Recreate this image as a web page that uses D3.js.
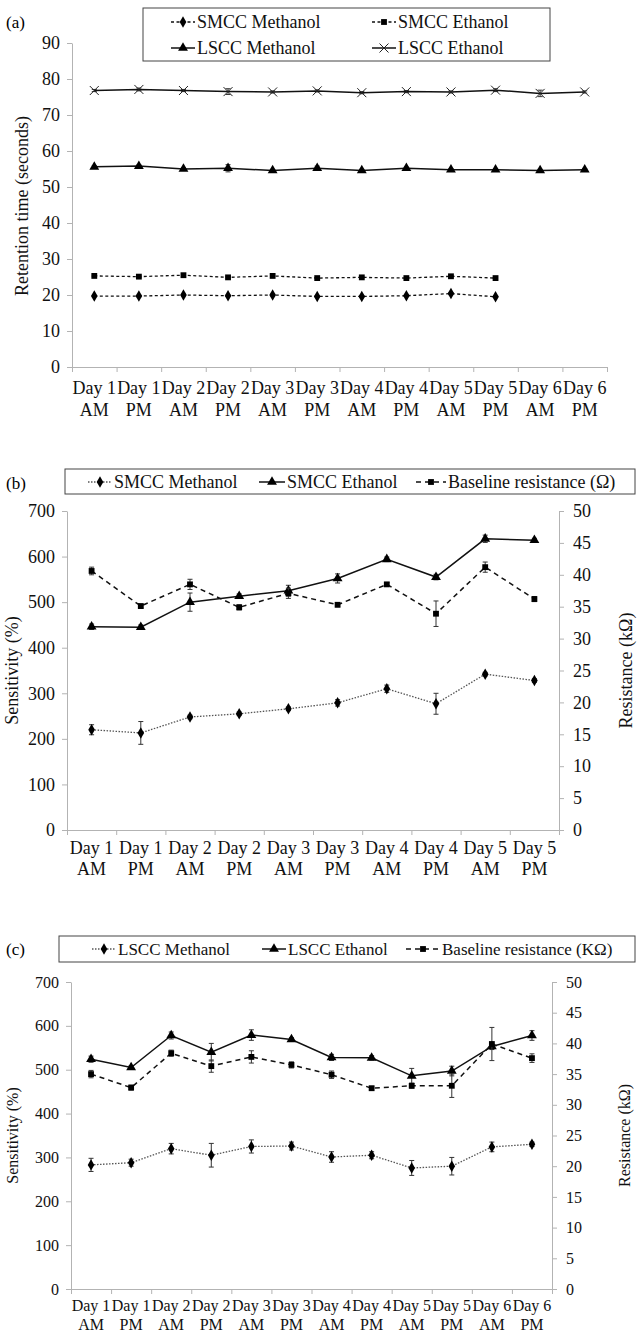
<!DOCTYPE html>
<html>
<head>
<meta charset="utf-8">
<script src="https://cdn.jsdelivr.net/npm/d3@7"></script>
<style>
  body { margin: 0; background: #fff; }
  svg, svg text { font-family: "Liberation Serif", "DejaVu Serif", "Times New Roman", serif !important; }
</style>
</head>
<body>
<div id="chart"></div>
<script>
// ---- data ----
const daysA = ["Day 1 AM", "Day 1 PM", "Day 2 AM", "Day 2 PM", "Day 3 AM", "Day 3 PM",
  "Day 4 AM", "Day 4 PM", "Day 5 AM", "Day 5 PM", "Day 6 AM", "Day 6 PM"];
const daysB = ["Day 1 AM", "Day 1 PM", "Day 2 AM", "Day 2 PM", "Day 3 AM", "Day 3 PM",
  "Day 4 AM", "Day 4 PM", "Day 5 AM", "Day 5 PM"];
const daysC = daysA;

// (a) retention time, seconds
const smccMethanolRT = [19.7, 19.7, 20.0, 19.8, 20.0, 19.6, 19.6, 19.8, 20.4, 19.5];
const smccMethanolRTErr = [0.2, 0.2, 0.2, 0.2, 0.2, 0.2, 0.2, 0.2, 0.3, 0.2];
const smccEthanolRT = [25.3, 25.1, 25.5, 24.9, 25.3, 24.7, 24.9, 24.7, 25.2, 24.7];
const smccEthanolRTErr = [0.2, 0.2, 0.3, 0.2, 0.2, 0.2, 0.2, 0.2, 0.2, 0.2];
const lsccMethanolRT = [55.6, 55.8, 55.0, 55.2, 54.6, 55.2, 54.6, 55.2, 54.8, 54.8, 54.6, 54.8];
const lsccMethanolRTErr = [0.3, 0.3, 0.3, 1.0, 0.3, 0.6, 0.3, 0.3, 0.3, 0.3, 0.3, 0.3];
const lsccEthanolRT = [76.8, 77.1, 76.8, 76.5, 76.4, 76.7, 76.2, 76.5, 76.4, 76.9, 76.0, 76.4];
const lsccEthanolRTErr = [0.3, 0.4, 0.3, 0.8, 0.3, 0.3, 0.3, 0.3, 0.3, 0.4, 0.9, 0.3];

// (b) SMCC sensitivity (%) and baseline resistance (kOhm)
const smccMethanolSens = [220, 213, 248, 255, 266, 279, 310, 277, 342, 328];
const smccMethanolSensErr = [11, 25, 4, 4, 4, 7, 8, 23, 4, 4];
const smccEthanolSens = [446, 445, 500, 513, 525, 552, 594, 555, 639, 636];
const smccEthanolSensErr = [6, 5, 20, 5, 12, 10, 5, 6, 8, 4];
const smccBaseline = [40.6, 35.1, 38.5, 34.9, 37.1, 35.3, 38.5, 33.9, 41.2, 36.2];
const smccBaselineErr = [0.6, 0.3, 0.8, 0.4, 0.8, 0.3, 0.3, 2.0, 0.8, 0.4];

// (c) LSCC sensitivity (%) and baseline resistance (kOhm)
const lsccMethanolSens = [283, 288, 320, 305, 325, 326, 301, 305, 276, 280, 324, 330];
const lsccMethanolSensErr = [15, 8, 12, 27, 15, 9, 12, 8, 17, 20, 11, 5];
const lsccEthanolSens = [524, 505, 578, 540, 579, 569, 528, 527, 486, 497, 553, 578];
const lsccEthanolSensErr = [7, 4, 8, 20, 12, 4, 7, 5, 17, 11, 7, 11];
const lsccBaseline = [35.0, 32.8, 38.4, 36.3, 37.8, 36.5, 34.9, 32.7, 33.1, 33.1, 39.9, 37.6];
const lsccBaselineErr = [0.6, 0.4, 0.5, 1.0, 1.0, 0.5, 0.6, 0.3, 0.4, 1.9, 2.7, 0.7];

const ticksA = d3.range(0, 91, 10);
const ticksSens = d3.range(0, 701, 100);
const ticksRes = d3.range(0, 51, 5);

// ---- styles ----
const FONT = "'Liberation Serif', 'DejaVu Serif', 'Times New Roman', serif";
const AXIS = "#b3b3b3";
const styles = {
  dashShort: { dash: "3,2.5", width: 1.3, color: "#111" },
  dotted: { dash: "1.5,1.5", width: 1.3, color: "#555" },
  solid: { dash: null, width: 1.5, color: "#111" },
  dashed: { dash: "5,4", width: 1.5, color: "#111" }
};

const W = 637, H = 1334;
const svg = d3.select("#chart").append("svg")
  .attr("width", W).attr("height", H)
  .attr("viewBox", `0 0 ${W} ${H}`)
  .style("font-family", FONT);

function drawMarker(g, type, x, y) {
  if (type === "cross") {
    const r = 4.5;
    g.append("path")
      .attr("d", `M${x - r},${y - r}L${x + r},${y + r}M${x - r},${y + r}L${x + r},${y - r}`)
      .attr("stroke", "#222").attr("stroke-width", 1).attr("fill", "none");
    return;
  }
  const sym = { diamond: d3.symbolDiamond, square: d3.symbolSquare, triangle: d3.symbolTriangle }[type];
  const size = { diamond: 38, square: 34, triangle: 42 }[type];
  g.append("path")
    .attr("d", d3.symbol().type(sym).size(size)())
    .attr("transform", `translate(${x},${y})`)
    .attr("fill", "#000");
}

function styleAxis(ax, fs) {
  ax.attr("font-family", null);
  ax.select(".domain").attr("stroke", AXIS);
  ax.selectAll(".tick line").attr("stroke", AXIS);
  ax.selectAll(".tick text").attr("font-size", fs).style("font-family", FONT).attr("fill", "#111");
}

function drawPanel(cfg) {
  const g = svg.append("g").style("font-family", FONT);
  const n = cfg.cats.length;
  const x = d3.scaleBand().domain(cfg.cats).range([cfg.x0, cfg.x1]).padding(0);
  const xIdx = d3.scaleLinear().domain([0, n]).range([cfg.x0, cfg.x1]);
  const yL = d3.scaleLinear().domain(cfg.yDomain).range([cfg.yBottom, cfg.yTop]);
  const yR = cfg.rTicks ? d3.scaleLinear().domain(cfg.rDomain).range([cfg.yBottom, cfg.yTop]) : null;

  // panel letter
  g.append("text").attr("x", 6).attr("y", cfg.letterY + 6)
    .attr("font-size", cfg.fs).text(cfg.letter);

  // left axis
  const axL = g.append("g").attr("transform", `translate(${cfg.x0},0)`)
    .call(d3.axisLeft(yL).tickValues(cfg.lTicks).tickSize(5).tickPadding(7).tickSizeOuter(0));
  styleAxis(axL, cfg.tfs);

  if (yR) {
    const axR = g.append("g").attr("transform", `translate(${cfg.x1},0)`)
      .call(d3.axisRight(yR).tickValues(cfg.rTicks).tickSize(5).tickPadding(9).tickSizeOuter(0));
    styleAxis(axR, cfg.tfs);
  }

  // bottom axis: ticks at category boundaries
  const axB = g.append("g").attr("transform", `translate(0,${cfg.yBottom})`)
    .call(d3.axisBottom(xIdx).tickValues(d3.range(n + 1)).tickFormat("").tickSize(5).tickSizeOuter(0));
  styleAxis(axB, cfg.tfs);

  // category labels, two lines
  const lbl = g.append("g").attr("font-size", cfg.xfs).attr("text-anchor", "middle").attr("fill", "#111");
  cfg.cats.forEach(c => {
    const parts = c.split(" ");
    const cx = x(c) + x.bandwidth() / 2;
    const t = lbl.append("text").attr("x", cx).attr("y", cfg.yBottom + cfg.lab1);
    t.append("tspan").attr("x", cx).text(parts[0] + " " + parts[1]);
    t.append("tspan").attr("x", cx).attr("dy", cfg.lab2).text(parts[2]);
  });

  // axis titles
  g.append("text")
    .attr("transform", `translate(${cfg.lTitleX},${(cfg.yTop + cfg.yBottom) / 2 + cfg.lTitleDy}) rotate(-90)`)
    .attr("text-anchor", "middle").attr("dominant-baseline", "central")
    .attr("font-size", cfg.titleFs).attr("fill", "#111").text(cfg.lTitle);
  if (cfg.rTitle) {
    g.append("text")
      .attr("transform", `translate(${cfg.rTitleX},${(cfg.yTop + cfg.yBottom) / 2}) rotate(-90)`)
      .attr("text-anchor", "middle").attr("dominant-baseline", "central")
      .attr("font-size", cfg.titleFs).attr("fill", "#111").text(cfg.rTitle);
  }

  // series
  cfg.series.forEach(s => {
    const y = s.axis === "right" ? yR : yL;
    const cats = cfg.cats.slice(0, s.values.length);
    const pts = s.values.map((v, i) => ({ cx: x(cats[i]) + x.bandwidth() / 2, v, e: s.err[i] }));
    const st = styles[s.style];

    // error bars
    const eb = g.append("g").attr("stroke", "#333").attr("stroke-width", 1);
    pts.forEach(p => {
      const ya = y(p.v - p.e), yb = y(p.v + p.e);
      eb.append("line").attr("x1", p.cx).attr("x2", p.cx).attr("y1", ya).attr("y2", yb);
      eb.append("line").attr("x1", p.cx - 2.5).attr("x2", p.cx + 2.5).attr("y1", ya).attr("y2", ya);
      eb.append("line").attr("x1", p.cx - 2.5).attr("x2", p.cx + 2.5).attr("y1", yb).attr("y2", yb);
    });

    const line = d3.line().x(p => p.cx).y(p => y(p.v));
    g.append("path").datum(pts).attr("d", line)
      .attr("fill", "none").attr("stroke", st.color).attr("stroke-width", st.width)
      .attr("stroke-dasharray", st.dash);

    const mg = g.append("g");
    pts.forEach(p => drawMarker(mg, s.marker, p.cx, y(p.v)));
  });

  // legend
  const lg = g.append("g");
  lg.append("rect").attr("x", cfg.legend.x).attr("y", cfg.legend.y)
    .attr("width", cfg.legend.w).attr("height", cfg.legend.h)
    .attr("fill", "#fff").attr("stroke", "#444").attr("stroke-width", 1);
  cfg.legend.items.forEach(it => {
    const s = cfg.series[it.s];
    const st = styles[s.style];
    lg.append("line").attr("x1", it.x).attr("x2", it.x + it.len)
      .attr("y1", it.y).attr("y2", it.y)
      .attr("stroke", st.color).attr("stroke-width", st.width).attr("stroke-dasharray", st.dash);
    drawMarker(lg, s.marker, it.x + it.len / 2, it.y);
    lg.append("text").attr("x", it.x + it.len + 2).attr("y", it.y)
      .attr("dominant-baseline", "central").attr("font-size", cfg.legend.fs)
      .attr("fill", "#111").text(s.name);
  });
}

// (a)
drawPanel({
  letter: "(a)", letterY: 22, fs: 17,
  cats: daysA, x0: 72, x1: 607,
  yDomain: [0, 90], yTop: 43, yBottom: 367, lTicks: ticksA,
  tfs: 18, xfs: 18, lab1: 27, lab2: 22, titleFs: 18,
  lTitle: "Retention time (seconds)", lTitleX: 22, lTitleDy: 1,
  series: [
    { name: "SMCC Methanol", values: smccMethanolRT, err: smccMethanolRTErr, style: "dashShort", marker: "diamond" },
    { name: "SMCC Ethanol", values: smccEthanolRT, err: smccEthanolRTErr, style: "dashShort", marker: "square" },
    { name: "LSCC Methanol", values: lsccMethanolRT, err: lsccMethanolRTErr, style: "solid", marker: "triangle" },
    { name: "LSCC Ethanol", values: lsccEthanolRT, err: lsccEthanolRTErr, style: "solid", marker: "cross" }
  ],
  legend: {
    x: 143, y: 8, w: 407, h: 53, fs: 18,
    items: [
      { s: 0, x: 171, y: 22, len: 24 },
      { s: 1, x: 372, y: 22, len: 24 },
      { s: 2, x: 171, y: 48, len: 24 },
      { s: 3, x: 372, y: 48, len: 24 }
    ]
  }
});

// (b)
drawPanel({
  letter: "(b)", letterY: 483, fs: 17,
  cats: daysB, x0: 67, x1: 559,
  yDomain: [0, 700], yTop: 511, yBottom: 830, lTicks: ticksSens,
  rDomain: [0, 50], rTicks: ticksRes,
  tfs: 18, xfs: 18, lab1: 24, lab2: 21, titleFs: 18,
  lTitle: "Sensitivity (%)", lTitleX: 12, lTitleDy: 0,
  rTitle: "Resistance (kΩ)", rTitleX: 626,
  series: [
    { name: "SMCC Methanol", values: smccMethanolSens, err: smccMethanolSensErr, style: "dotted", marker: "diamond" },
    { name: "SMCC Ethanol", values: smccEthanolSens, err: smccEthanolSensErr, style: "solid", marker: "triangle" },
    { name: "Baseline resistance (Ω)", values: smccBaseline, err: smccBaselineErr, style: "dashed", marker: "square", axis: "right" }
  ],
  legend: {
    x: 65, y: 469, w: 570, h: 25, fs: 18,
    items: [
      { s: 0, x: 88, y: 482, len: 24 },
      { s: 1, x: 259, y: 482, len: 26 },
      { s: 2, x: 416, y: 482, len: 30 }
    ]
  }
});

// (c)
drawPanel({
  letter: "(c)", letterY: 949, fs: 17,
  cats: daysC, x0: 71, x1: 552,
  yDomain: [0, 700], yTop: 982, yBottom: 1289, lTicks: ticksSens,
  rDomain: [0, 50], rTicks: ticksRes,
  tfs: 16, xfs: 16, lab1: 22, lab2: 19, titleFs: 16,
  lTitle: "Sensitivity (%)", lTitleX: 12, lTitleDy: 0,
  rTitle: "Resistance (kΩ)", rTitleX: 624,
  series: [
    { name: "LSCC Methanol", values: lsccMethanolSens, err: lsccMethanolSensErr, style: "dotted", marker: "diamond" },
    { name: "LSCC Ethanol", values: lsccEthanolSens, err: lsccEthanolSensErr, style: "solid", marker: "triangle" },
    { name: "Baseline resistance (KΩ)", values: lsccBaseline, err: lsccBaselineErr, style: "dashed", marker: "square", axis: "right" }
  ],
  legend: {
    x: 59, y: 936, w: 576, h: 26, fs: 17,
    items: [
      { s: 0, x: 92, y: 949, len: 24 },
      { s: 1, x: 262, y: 949, len: 24 },
      { s: 2, x: 406, y: 949, len: 34 }
    ]
  }
});
</script>
</body>
</html>
